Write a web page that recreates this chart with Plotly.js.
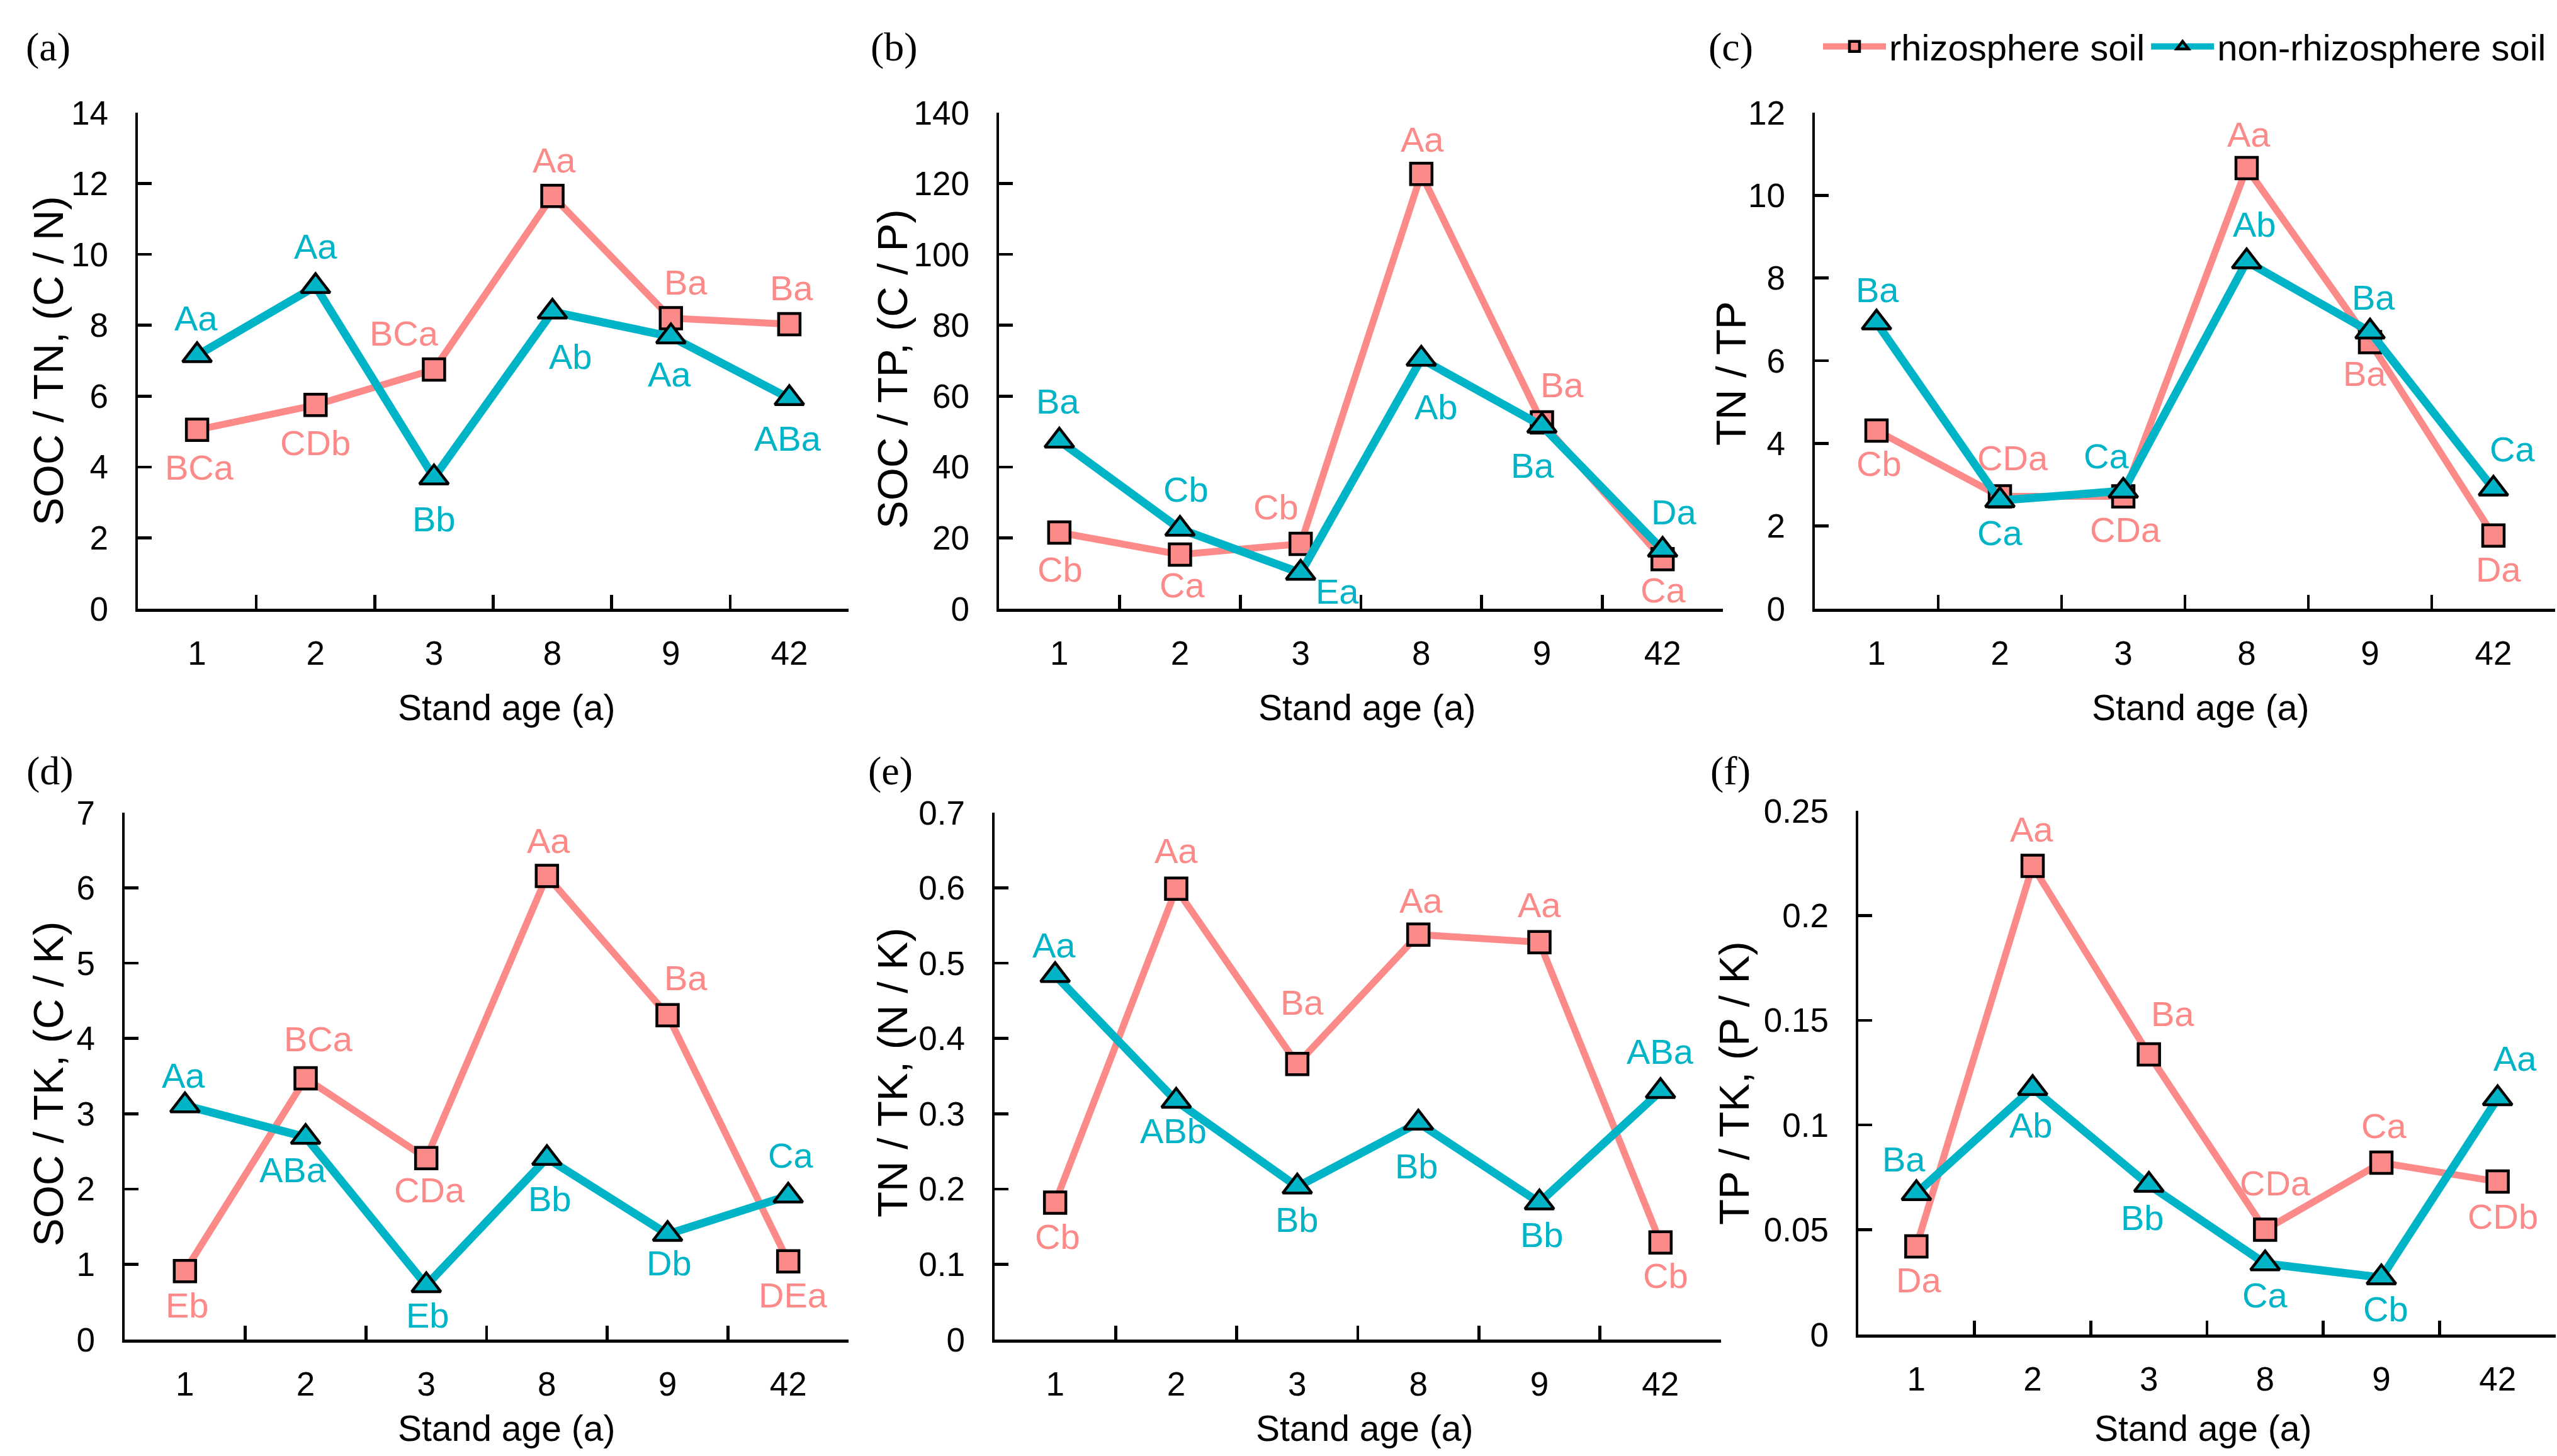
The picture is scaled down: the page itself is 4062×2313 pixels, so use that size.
<!DOCTYPE html>
<html>
<head>
<meta charset="utf-8">
<script src="https://cdn.plot.ly/plotly-3.0.1.min.js"></script>
<style>html,body{margin:0;padding:0;background:#fff}#chart{width:4062px;height:2313px}</style>
</head>
<body>
<div id="chart"></div>
<script>
// ---------- data ----------
const standAge = ['1', '2', '3', '8', '9', '42'];
const seriesNames = ['rhizosphere soil', 'non-rhizosphere soil'];

// (a) SOC / TN
const socTN_rhizo = [5.05, 5.75, 6.75, 11.65, 8.2, 8.03];
const socTN_non   = [7.15, 9.1, 3.7, 8.38, 7.68, 5.94];
const socTN_rhizoLbl = ['BCa', 'CDb', 'BCa', 'Aa', 'Ba', 'Ba'];
const socTN_nonLbl   = ['Aa', 'Aa', 'Bb', 'Ab', 'Aa', 'ABa'];

// (b) SOC / TP
const socTP_rhizo = [21.5, 15.3, 18.3, 122.7, 52.6, 14.0];
const socTP_non   = [47.4, 22.5, 10.1, 70.5, 51.6, 16.6];
const socTP_rhizoLbl = ['Cb', 'Ca', 'Cb', 'Aa', 'Ba', 'Ca'];
const socTP_nonLbl   = ['Ba', 'Cb', 'Ea', 'Ab', 'Ba', 'Da'];

// (c) TN / TP
const tnTP_rhizo = [4.31, 2.72, 2.72, 10.66, 6.45, 1.77];
const tnTP_non   = [6.92, 2.62, 2.85, 8.4, 6.7, 2.9];
const tnTP_rhizoLbl = ['Cb', 'CDa', 'CDa', 'Aa', 'Ba', 'Da'];
const tnTP_nonLbl   = ['Ba', 'Ca', 'Ca', 'Ab', 'Ba', 'Ca'];

// (d) SOC / TK
const socTK_rhizo = [0.91, 3.47, 2.41, 6.16, 4.31, 1.04];
const socTK_non   = [3.11, 2.69, 0.72, 2.41, 1.40, 1.91];
const socTK_rhizoLbl = ['Eb', 'BCa', 'CDa', 'Aa', 'Ba', 'DEa'];
const socTK_nonLbl   = ['Aa', 'ABa', 'Eb', 'Bb', 'Db', 'Ca'];

// (e) TN / TK
const tnTK_rhizo = [0.182, 0.599, 0.366, 0.538, 0.528, 0.129];
const tnTK_non   = [0.484, 0.317, 0.203, 0.288, 0.182, 0.330];
const tnTK_rhizoLbl = ['Cb', 'Aa', 'Ba', 'Aa', 'Aa', 'Cb'];
const tnTK_nonLbl   = ['Aa', 'ABb', 'Bb', 'Bb', 'Bb', 'ABa'];

// (f) TP / TK
const tpTK_rhizo = [0.0421, 0.2237, 0.1337, 0.050, 0.082, 0.073];
const tpTK_non   = [0.0674, 0.1176, 0.0714, 0.0339, 0.0272, 0.1127];
const tpTK_rhizoLbl = ['Da', 'Aa', 'Ba', 'CDa', 'Ca', 'CDb'];
const tpTK_nonLbl   = ['Ba', 'Ab', 'Bb', 'Ca', 'Cb', 'Aa'];

const panelLetters = ['(a)', '(b)', '(c)', '(d)', '(e)', '(f)'];
const yTitles = ['SOC / TN, (C / N)', 'SOC / TP, (C / P)', 'TN / TP', 'SOC / TK, (C / K)', 'TN / TK, (N / K)', 'TP / TK, (P / K)'];
const xTitle = 'Stand age (a)';

// ---------- layout config (pixels of the 4062 x 2313 page) ----------
const W = 4062, H = 2313;
const COL_R = '#FC8A88', COL_N = '#00B4C8';
const FONT = 'Liberation Sans, Arial, sans-serif';
const SERIF = 'Liberation Serif, Times New Roman, serif';

// label offsets [dx, dy] in px (dy>0 = below the marker)
const offs = {
  aR: [[4,60],[0,60],[-47,-58],[3,-57],[24,-57],[4,-58]],
  aN: [[-2,-59],[0,-63],[0,66],[29,71],[-2,60],[-2,64]],
  bR: [[1,59],[3,49],[-39,-58],[2,-55],[32,-59],[1,49]],
  bN: [[-2,-63],[9,-63],[58,29],[24,76],[-15,63],[18,-60]],
  cR: [[4,53],[20,-61],[3,53],[3,-53],[-9,50],[8,54]],
  cN: [[1,-52],[0,52],[-27,-55],[12,-59],[5,-55],[30,-63]],
  dR: [[4,54],[20,-63],[5,51],[3,-56],[29,-59],[8,54]],
  dN: [[-2,-48],[-20,52],[2,48],[5,65],[2,46],[4,-64]],
  eR: [[4,54],[0,-60],[8,-98],[4,-54],[0,-59],[8,53]],
  eN: [[-2,-48],[-5,48],[0,52],[-3,69],[4,51],[0,-63]],
  fR: [[4,54],[-2,-58],[38,-65],[16,-74],[4,-59],[8,55]],
  fN: [[-20,-54],[-3,59],[-10,52],[0,50],[7,50],[28,-63]]
};

const panels = [
  {r: socTN_rhizo, n: socTN_non, rl: socTN_rhizoLbl, nl: socTN_nonLbl, range: [0, 14], dtick: 2,
   xd: [219, 1348], yd: [179, 967], letter: [76, 74], yt: [76, 573], xt: [804, 1124], o: ['aR', 'aN']},
  {r: socTP_rhizo, n: socTP_non, rl: socTP_rhizoLbl, nl: socTP_nonLbl, range: [0, 140], dtick: 20,
   xd: [1587, 2737], yd: [179, 967], letter: [1420, 74], yt: [1417, 586], xt: [2171, 1124], o: ['bR', 'bN']},
  {r: tnTP_rhizo, n: tnTP_non, rl: tnTP_rhizoLbl, nl: tnTP_nonLbl, range: [0, 12], dtick: 2,
   xd: [2883, 4059], yd: [179, 967], letter: [2749, 74], yt: [2749, 593], xt: [3495, 1124], o: ['cR', 'cN']},
  {r: socTK_rhizo, n: socTK_non, rl: socTK_rhizoLbl, nl: socTK_nonLbl, range: [0, 7], dtick: 1,
   xd: [198, 1348], yd: [1291, 2128], letter: [79, 1224], yt: [76, 1722], xt: [804, 2269], o: ['dR', 'dN']},
  {r: tnTK_rhizo, n: tnTK_non, rl: tnTK_rhizoLbl, nl: tnTK_nonLbl, range: [0, 0.7], dtick: 0.1,
   xd: [1580, 2734], yd: [1291, 2128], letter: [1414, 1224], yt: [1417, 1704], xt: [2167, 2269], o: ['eR', 'eN']},
  {r: tpTK_rhizo, n: tpTK_non, rl: tpTK_rhizoLbl, nl: tpTK_nonLbl, range: [0, 0.25], dtick: 0.05,
   xd: [2952, 4060], yd: [1288, 2120], letter: [2749, 1224], yt: [2754, 1721], xt: [3499, 2269], o: ['fR', 'fN']}
];

const px = v => v / W;
const py = v => 1 - v / H;

const traces = [];
const annotations = [];
const layout = {
  width: W, height: H,
  margin: {l: 0, r: 0, t: 0, b: 0, pad: 0},
  paper_bgcolor: '#fff', plot_bgcolor: '#fff',
  font: {family: FONT, color: '#000', size: 52},
  showlegend: true,
  legend: {
    orientation: 'h', x: 4050 / W, xanchor: 'right', y: py(74), yanchor: 'middle',
    font: {family: FONT, size: 58, color: '#000'}, bgcolor: 'rgba(0,0,0,0)',
    itemwidth: 100, tracegroupgap: 0, itemclick: false
  }
};

panels.forEach((p, i) => {
  const k = i === 0 ? '' : String(i + 1);
  const xa = 'x' + k, ya = 'y' + k;
  layout['xaxis' + k] = {
    domain: [px(p.xd[0]), px(p.xd[1])], anchor: ya, type: 'category',
    categoryorder: 'array', categoryarray: standAge, range: [-0.5, 5.5],
    showline: true, linecolor: '#000', linewidth: 4.5, mirror: false,
    ticks: 'inside', tickson: 'boundaries', ticklen: 22, tickwidth: 4.5, tickcolor: '#000',
    tickfont: {family: FONT, size: 53, color: '#000'}, ticklabelstandoff: 21,
    showgrid: false, zeroline: false, fixedrange: true
  };
  layout['yaxis' + k] = {
    domain: [py(p.yd[1]), py(p.yd[0])], anchor: xa, range: p.range,
    tick0: 0, dtick: p.dtick,
    showline: true, linecolor: '#000', linewidth: 4.5, mirror: false,
    ticks: 'inside', ticklen: 22, tickwidth: 4.5, tickcolor: '#000',
    tickfont: {family: FONT, size: 53, color: '#000'}, ticklabelstandoff: 32,
    showgrid: false, zeroline: false, fixedrange: true
  };

  traces.push({
    type: 'scatter', mode: 'lines+markers', x: standAge, y: p.r, xaxis: xa, yaxis: ya,
    name: seriesNames[0], legendgroup: 'r', showlegend: i === 0, cliponaxis: false,
    line: {color: COL_R, width: 11},
    marker: {symbol: 'square', size: 34, color: COL_R, line: {color: '#000', width: 4.5}}
  });
  traces.push({
    type: 'scatter', mode: 'lines+markers', x: standAge, y: p.n, xaxis: xa, yaxis: ya,
    name: seriesNames[1], legendgroup: 'n', showlegend: i === 0, cliponaxis: false,
    line: {color: COL_N, width: 13},
    marker: {symbol: 'triangle-up', size: 40, color: COL_N, line: {color: '#000', width: 4.5}}
  });

  // category axis: annotation x is the category index
  const addLabels = (vals, lbls, off, col) => {
    vals.forEach((v, j) => {
      annotations.push({
        xref: xa, yref: ya, x: j, y: v, text: lbls[j], showarrow: false,
        xanchor: 'center', yanchor: 'middle', xshift: off[j][0], yshift: -off[j][1],
        font: {family: FONT, size: 56, color: col}
      });
    });
  };
  addLabels(p.r, p.rl, offs[p.o[0]], COL_R);
  addLabels(p.n, p.nl, offs[p.o[1]], COL_N);

  annotations.push({
    xref: 'paper', yref: 'paper', x: px(p.letter[0]), y: py(p.letter[1]), text: panelLetters[i],
    showarrow: false, xanchor: 'center', yanchor: 'middle', font: {family: SERIF, size: 64, color: '#000'}
  });
  annotations.push({
    xref: 'paper', yref: 'paper', x: px(p.yt[0]), y: py(p.yt[1]), text: yTitles[i], textangle: -90,
    showarrow: false, xanchor: 'center', yanchor: 'middle', font: {family: FONT, size: 67, color: '#000'}
  });
  annotations.push({
    xref: 'paper', yref: 'paper', x: px(p.xt[0]), y: py(p.xt[1]), text: xTitle,
    showarrow: false, xanchor: 'center', yanchor: 'middle', font: {family: FONT, size: 57, color: '#000'}
  });
});

layout.annotations = annotations;
Plotly.newPlot('chart', traces, layout, {displayModeBar: false, staticPlot: true});
</script>
</body>
</html>
